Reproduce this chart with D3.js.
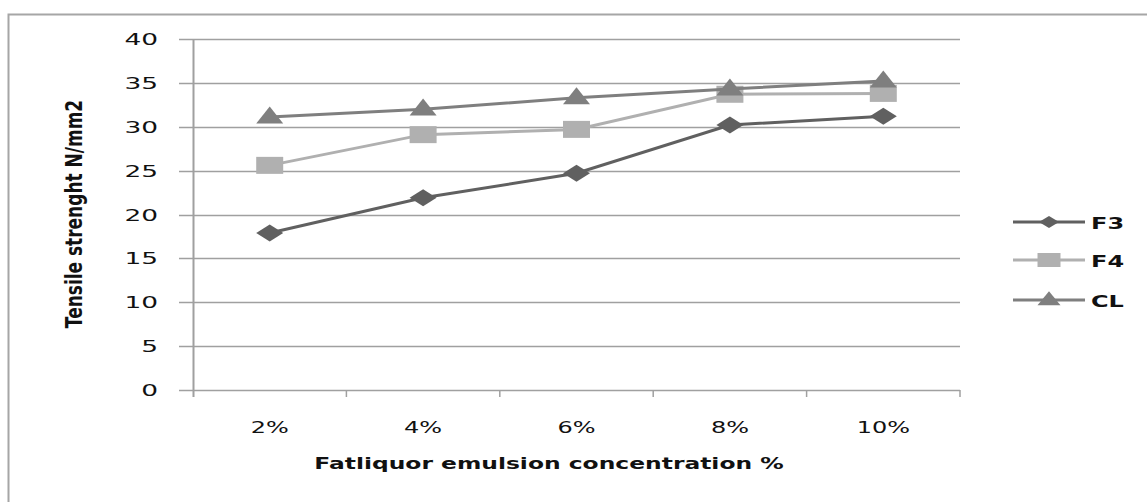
<!DOCTYPE html>
<html>
<head>
<meta charset="UTF-8">
<title>Tensile strength</title>
<script type="text/javascript" src="https://cdn.jsdelivr.net/npm/d3@7"></script>
<style type="text/css">
body{margin:0;background:#fff;}
text{font-family:"DejaVu Sans",Verdana,sans-serif;fill:#111;}
</style>
</head>
<body>
<script type="text/javascript">
// data
var categories=["2%","4%","6%","8%","10%"];
var f3=[17.9,21.9,24.7,30.2,31.2];
var f4=[25.6,29.1,29.7,33.7,33.8];
var cl=[31.1,32.0,33.3,34.3,35.2];
var seriesNames=["F3","F4","CL"];
var yTicks=[0,5,10,15,20,25,30,35,40];

var width=1147,height=502;
var sx=1.5;//the picture is stretched sideways, text too
var plotLeft=193,plotRight=960,plotTop=39,plotBottom=390;

var series=[
	{name:"F3",values:f3,color:"#606060",shape:"diamond"},
	{name:"F4",values:f4,color:"#b0b0b0",shape:"square"},
	{name:"CL",values:cl,color:"#7f7f7f",shape:"triangle"}
];

var svg=d3.select("body").append("svg")
	.attr("width",width).attr("height",height);

// chart border (only top and left inside the frame)
svg.append("path")
	.attr("d","M8.5,"+height+"V14.5H"+width)
	.attr("fill","none").attr("stroke","#a6a6a6").attr("stroke-width",2);

var xScale=d3.scaleBand().domain(categories).range([plotLeft,plotRight]);
var yScale=d3.scaleLinear().domain([0,40]).range([plotBottom,plotTop]);

// horizontal gridlines + y ticks
svg.append("g").selectAll("line").data(yTicks).enter().append("line")
	.attr("x1",179).attr("x2",plotRight)
	.attr("y1",function(d){return Math.round(yScale(d))+0.5;})
	.attr("y2",function(d){return Math.round(yScale(d))+0.5;})
	.attr("stroke","#a0a0a0").attr("stroke-width",1.5);

function label(x,y,txt,anchor,size,weight,rot,k){
	return svg.append("text")
		.attr("transform","translate("+x+","+y+") scale("+(k||sx)+",1)"+(rot?" rotate("+rot+")":""))
		.attr("text-anchor",anchor)
		.attr("font-size",size)
		.attr("font-weight",weight||"normal")
		.text(txt);
}

yTicks.forEach(function(d){
	label(158,yScale(d)+6,d,"end",16,"normal",0,1.65);
});

// y axis line and x axis ticks
svg.append("line").attr("x1",plotLeft+0.5).attr("x2",plotLeft+0.5)
	.attr("y1",plotTop).attr("y2",plotBottom+7)
	.attr("stroke","#a0a0a0").attr("stroke-width",2);
var bounds=categories.map(function(c){return xScale(c);}).concat([plotRight]);
svg.append("g").selectAll("line").data(bounds.slice(1)).enter().append("line")
	.attr("x1",function(d){return d;}).attr("x2",function(d){return d;})
	.attr("y1",plotBottom).attr("y2",plotBottom+7)
	.attr("stroke","#a0a0a0").attr("stroke-width",1.5);

categories.forEach(function(c){
	label(xScale(c)+xScale.bandwidth()/2,433,c,"middle",16,"normal");
});

// axis titles
label(549,469,"Fatliquor emulsion concentration %","middle",15.6,"bold");
label(82,214,"Tensile strenght  N/mm2","middle",17,"bold",-90,1.35);

// marker shapes, stretched like the picture
function shapePath(shape,w,h){
	if(shape=="diamond")return "M"+(-w)+",0L0,"+(-h)+"L"+w+",0L0,"+h+"Z";
	if(shape=="square")return "M"+(-w)+","+(-h)+"H"+w+"V"+h+"H"+(-w)+"Z";
	return "M"+(-w)+","+(h*0.75)+"L0,"+(-h*1.25)+"L"+w+","+(h*0.75)+"Z";
}

var line=d3.line()
	.x(function(d,i){return xScale(categories[i])+xScale.bandwidth()/2;})
	.y(function(d){return yScale(d);});

series.forEach(function(s){
	svg.append("path").datum(s.values)
		.attr("d",line)
		.attr("fill","none").attr("stroke",s.color).attr("stroke-width",3);
	svg.append("g").selectAll("path").data(s.values).enter().append("path")
		.attr("transform",function(d,i){
			return "translate("+(xScale(categories[i])+xScale.bandwidth()/2)+","+yScale(d)+")";
		})
		.attr("d",shapePath(s.shape,13.5,8.5))
		.attr("fill",s.color);
});

// legend
var legY=[222,260,300];
series.forEach(function(s,i){
	svg.append("line").attr("x1",1013).attr("x2",1085)
		.attr("y1",legY[i]).attr("y2",legY[i])
		.attr("stroke",s.color).attr("stroke-width",3);
	svg.append("path")
		.attr("transform","translate(1049,"+legY[i]+")")
		.attr("d",shapePath(s.shape,s.shape=="diamond"?10:11.5,s.shape=="diamond"?6:7))
		.attr("fill",s.color);
	label(1091,legY[i]+6.5,seriesNames[i],"start",16,"bold");
});
</script>
</body>
</html>
